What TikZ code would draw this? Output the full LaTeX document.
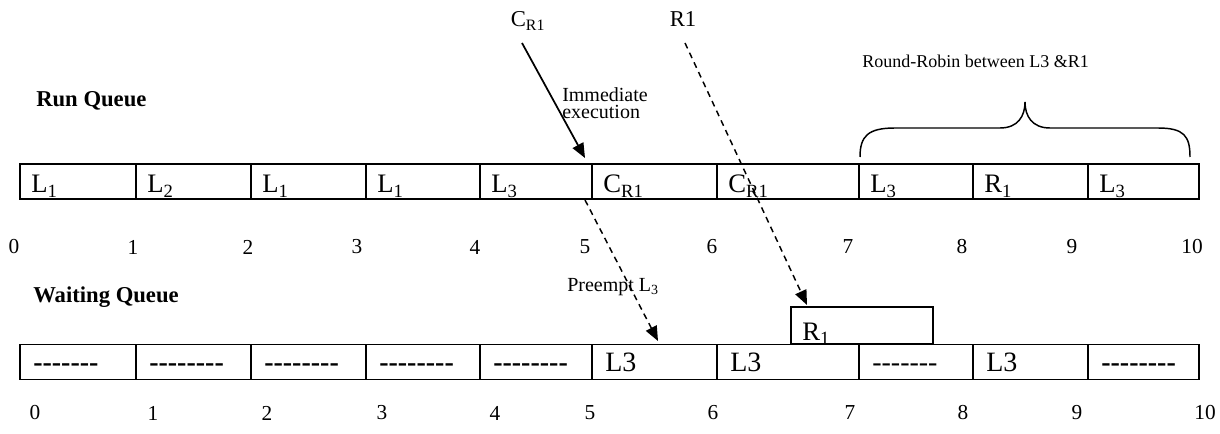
\documentclass[tikz,border=0pt]{standalone}
\usepackage{fontspec}
\setmainfont{Liberation Serif}
\usetikzlibrary{arrows.meta}

\newcommand{\dashrun}[1]{\foreach\k in {1,...,#1}{-\kern0pt}}

\begin{document}
\begin{tikzpicture}[x=0.75pt,y=-0.75pt,
    >={Triangle[length=11pt,width=9pt]},
    cell/.style={draw,line width=1.4pt,minimum height=26.25pt,inner sep=0pt},
    celltext/.style={anchor=base west,inner sep=0pt,font=\fontsize{20}{24}\selectfont},
    ticknum/.style={inner sep=0pt,font=\fontsize{16}{19}\selectfont},
    qlabel/.style={anchor=west,inner sep=0pt,font=\fontsize{17}{20}\selectfont\bfseries},
    note/.style={anchor=base west,inner sep=0pt,font=\fontsize{15}{17}\selectfont},
    dashedarrow/.style={->,line width=1.1pt,dash pattern=on 4.5pt off 3.5pt}]

    \useasboundingbox (0,0) rectangle (1220,434);

    % Queue names
    \node[qlabel] (runq) at (36,101) {Run Queue};
    \node[qlabel] (waitq) at (33,297) {Waiting Queue};

    % Run queue
    \foreach \a/\b/\t [count=\i] in {20/136/L\textsubscript{1},136/251/L\textsubscript{2},
        251/366/L\textsubscript{1},366/480/L\textsubscript{1},480/592/L\textsubscript{3},
        592/717/C\textsubscript{R1},717/859/C\textsubscript{R1},859/973/L\textsubscript{3},
        973/1088/R\textsubscript{1},1088/1199/L\textsubscript{3}} {
        \node[cell,minimum width={(\b-\a)*0.75pt}] (run\i) at ({(\a+\b)/2},181.5) {};
        \node[celltext] (runtxt\i) at ({\a+11},193) {\t};
    }

    % Waiting queue
    \foreach \a/\b/\t [count=\i] in {20/136/\textbf{\dashrun{7}},136/251/\textbf{\dashrun{8}},
        251/366/\textbf{\dashrun{8}},366/480/\textbf{\dashrun{8}},480/592/\textbf{\dashrun{8}},
        592/717/L3,717/859/L3,859/973/\dashrun{7},973/1088/L3,1088/1199/\textbf{\dashrun{8}}} {
        \node[cell,minimum width={(\b-\a)*0.75pt}] (wait\i) at ({(\a+\b)/2},362) {};
        \node[celltext,font=\fontsize{21}{24}\selectfont] (waittxt\i) at ({\a+13},372) {\t};
    }
    \node[cell,line width=0.9pt,minimum width=106.5pt,minimum height=27.75pt] (rbox) at (862,325.5) {};
    \node[celltext] (rboxtxt) at (802,340) {R\textsubscript{1}};

    % Time scales
    \foreach \x [count=\n from 0] in {14,133,248,357,475,585,712,848,962,1072,1192}
        \node[ticknum] (top\n) at (\x,247) {\n};
    \foreach \x [count=\n from 0] in {35,153,267,382,495,590,713,850,963,1077,1205}
        \node[ticknum] (bot\n) at (\x,413) {\n};

    % Arrivals
    \node[font=\fontsize{17}{20}\selectfont] (crlbl) at (528,21) {C\textsubscript{R1}};
    \node[font=\fontsize{17}{20}\selectfont] (rlbl) at (683,19) {R1};
    \coordinate (crtail) at (522,43);
    \coordinate (crhead) at (585,158);
    \coordinate (rtail) at (685,43);
    \coordinate (rhead) at (807,305);
    \coordinate (ptail) at (585,200);
    \coordinate (phead) at (658,341);
    \draw[->,line width=1.3pt] (crtail) -- (crhead);
    \draw[dashedarrow] (rtail) -- (rhead);
    \draw[dashedarrow] (ptail) -- (phead);

    % Notes
    \begin{scope}
        \clip (550,80) rectangle (680,121);
        \node[note] (imm1) at (562,102) {Immediate};
        \node[note] (imm2) at (562,119) {execution};
    \end{scope}
    \node[note] (pre) at (567,292) {Preempt L\textsubscript{3}};
    \node[note,font=\fontsize{13.5}{16}\selectfont] (rr) at (862,68) {Round-Robin between L3 \&R1};

    % Brace
    \draw[line width=1.1pt] (860,157) .. controls (860,136) and (868,128) .. (895,128)
        -- (1000,128) .. controls (1018,128) and (1025,116) .. (1025,102)
        .. controls (1025,116) and (1032,128) .. (1050,128)
        -- (1158,128) .. controls (1184,128) and (1190,136) .. (1190,157);
\end{tikzpicture}
\end{document}
